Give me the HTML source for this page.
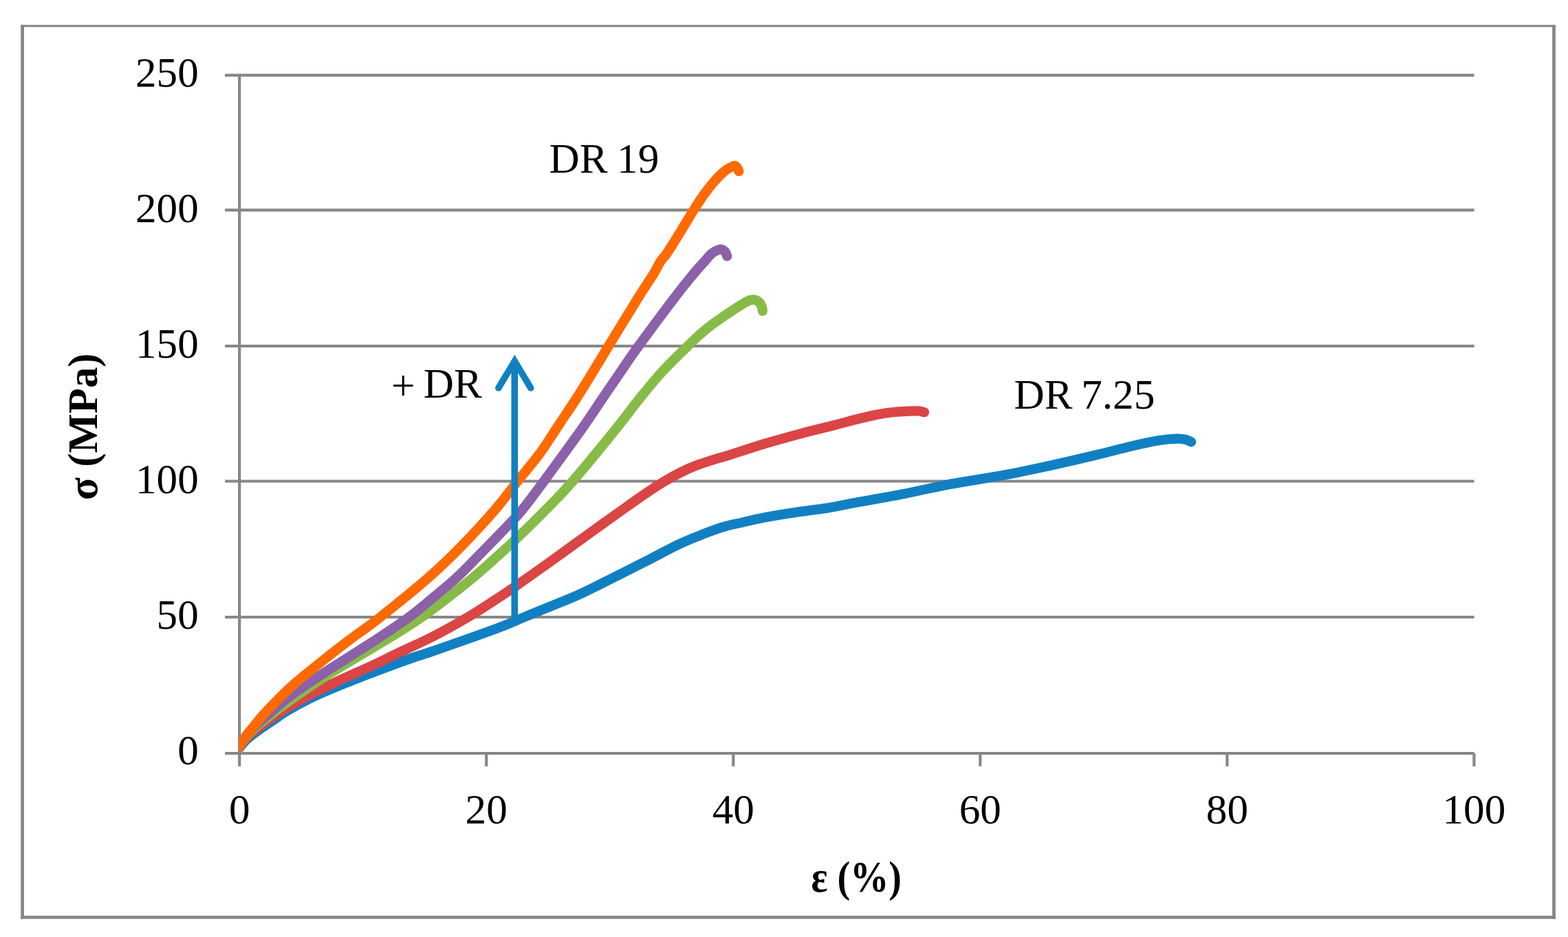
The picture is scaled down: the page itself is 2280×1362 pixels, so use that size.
<!DOCTYPE html>
<html lang="en">
<head>
<meta charset="utf-8">
<title>Stress-strain curves</title>
<style>
html,body{margin:0;padding:0;background:#ffffff;}
body{width:2280px;height:1362px;overflow:hidden;}
svg{display:block;}
text{font-family:"Liberation Serif","DejaVu Serif",serif;font-size:60px;fill:#000;}
.b{font-weight:bold;}
.g{stroke:#878787;fill:none;}
.c{fill:none;stroke-width:14.3;stroke-linecap:round;stroke-linejoin:round;}
</style>
</head>
<body>
<svg width="2280" height="1362" viewBox="0 0 2280 1362">
<rect x="0" y="0" width="2280" height="1362" fill="#ffffff"/>
<g fill="#878787">
<rect x="30.2" y="36.2" width="4.80" height="1299.50"/>
<rect x="2257.1" y="36.2" width="4.80" height="1299.50"/>
<rect x="30.2" y="36.2" width="2231.70" height="3.10"/>
<rect x="30.2" y="1331.1" width="2231.70" height="4.60"/>
</g>
<g class="g" stroke-width="4.2">
<line x1="327.1" y1="1095.0" x2="2143.6" y2="1095.0"/>
<line x1="327.1" y1="897.0" x2="2143.6" y2="897.0"/>
<line x1="327.1" y1="699.5" x2="2143.6" y2="699.5"/>
<line x1="327.1" y1="503.0" x2="2143.6" y2="503.0"/>
<line x1="327.1" y1="305.3" x2="2143.6" y2="305.3"/>
<line x1="327.1" y1="109.4" x2="2143.6" y2="109.4"/>
<line x1="348.2" y1="107.3" x2="348.2" y2="1113.9" stroke-width="4.2"/>
<line x1="707.2" y1="1094.96" x2="707.2" y2="1113.9" stroke-width="4.2"/>
<line x1="1066.3" y1="1094.96" x2="1066.3" y2="1113.9" stroke-width="4.2"/>
<line x1="1425.3" y1="1094.96" x2="1425.3" y2="1113.9" stroke-width="4.2"/>
<line x1="1784.4" y1="1094.96" x2="1784.4" y2="1113.9" stroke-width="4.2"/>
<line x1="2143.4" y1="1094.96" x2="2143.4" y2="1113.9" stroke-width="4.2"/>
</g>
<defs><clipPath id="plot"><rect x="347.4" y="0" width="2280" height="1092.6"/></clipPath></defs>
<g clip-path="url(#plot)">
<path class="c" stroke="#1180c3" d="M343.0,1094.0 C343.8,1093.0 345.2,1090.6 347.5,1087.7 C349.8,1084.8 353.7,1079.9 356.8,1076.7 C359.9,1073.5 362.4,1071.6 366.2,1068.6 C370.0,1065.6 374.7,1062.2 379.9,1058.6 C385.1,1054.9 391.4,1050.8 397.5,1046.7 C403.6,1042.6 407.6,1039.1 416.4,1033.9 C425.1,1028.7 438.9,1021.0 450.0,1015.5 C461.1,1010.0 469.6,1006.6 482.9,1001.0 C496.2,995.4 513.6,988.4 529.8,982.1 C546.0,975.8 567.3,967.9 580.0,963.2 C592.7,958.5 597.9,956.8 606.2,954.0 C614.5,951.2 611.0,952.9 630.0,946.3 C649.0,939.7 698.3,922.4 720.0,914.4 C741.7,906.4 746.7,903.5 760.0,898.0 C773.3,892.5 786.0,887.4 800.0,881.6 C814.0,875.8 827.4,871.0 844.1,863.3 C860.8,855.6 883.3,843.9 900.0,835.6 C916.7,827.3 929.4,820.8 944.1,813.3 C958.8,805.8 973.4,797.5 988.1,790.7 C1002.8,783.9 1020.5,777.1 1032.2,772.6 C1044.0,768.1 1051.3,766.1 1058.6,764.0 C1065.9,761.9 1067.4,762.1 1076.2,760.1 C1085.0,758.1 1096.7,755.0 1111.4,752.2 C1126.1,749.5 1149.5,745.8 1164.3,743.6 C1179.1,741.4 1186.4,741.1 1200.0,738.9 C1213.6,736.7 1227.4,733.6 1246.1,730.2 C1264.8,726.8 1290.1,722.6 1312.1,718.3 C1334.1,714.0 1356.2,708.6 1378.2,704.4 C1400.2,700.2 1427.3,696.2 1444.3,693.3 C1461.3,690.3 1466.4,689.4 1480.0,686.7 C1493.6,684.0 1507.4,681.1 1526.1,677.0 C1544.8,672.9 1572.3,666.5 1592.1,661.8 C1611.9,657.1 1629.6,652.2 1645.0,648.6 C1660.4,645.0 1673.7,642.1 1684.7,640.3 C1695.7,638.5 1704.5,637.9 1711.1,637.7 C1717.7,637.5 1720.8,638.2 1724.3,639.0 C1727.8,639.8 1730.8,641.8 1732.1,642.3"/>
<path class="c" stroke="#db4545" d="M342.5,1094.0 C343.3,1092.8 345.2,1089.6 347.5,1086.5 C349.8,1083.4 353.1,1078.8 356.0,1075.5 C358.9,1072.2 361.3,1069.8 365.0,1066.5 C368.7,1063.2 372.1,1060.4 378.0,1056.0 C383.9,1051.6 393.4,1044.8 400.4,1040.0 C407.4,1035.2 410.7,1033.0 420.0,1027.5 C429.3,1022.0 444.4,1013.3 456.4,1007.0 C468.3,1000.7 478.5,996.0 491.7,989.8 C504.9,983.6 521.0,976.8 535.7,970.0 C550.4,963.2 564.1,956.3 579.8,948.8 C595.5,941.3 613.3,933.6 630.0,925.0 C646.7,916.4 664.9,906.1 679.9,897.3 C694.9,888.5 707.8,879.9 720.0,872.0 C732.2,864.1 738.6,859.7 752.9,849.8 C767.2,839.9 788.1,825.1 805.7,812.5 C823.3,799.9 841.0,786.9 858.6,774.2 C876.2,761.5 897.8,746.1 911.4,736.5 C925.0,726.9 930.9,722.6 940.0,716.5 C949.1,710.4 957.8,704.7 966.1,699.7 C974.4,694.7 982.7,690.2 990.0,686.5 C997.3,682.8 1002.5,680.4 1010.0,677.5 C1017.5,674.6 1026.9,671.6 1035.0,669.0 C1043.1,666.4 1045.9,666.0 1058.6,662.0 C1071.3,658.0 1093.8,650.4 1111.4,645.1 C1129.0,639.8 1147.0,634.9 1164.3,630.3 C1181.6,625.7 1200.8,621.2 1215.2,617.5 C1229.6,613.8 1238.8,611.1 1250.5,608.3 C1262.2,605.5 1275.4,602.5 1285.7,600.8 C1296.0,599.1 1304.1,598.7 1312.2,598.1 C1320.3,597.5 1328.9,597.2 1334.2,597.4 C1339.5,597.6 1342.4,598.9 1344.0,599.2"/>
<path class="c" stroke="#87bb47" d="M342.0,1094.0 C342.9,1092.6 345.2,1088.8 347.5,1085.5 C349.8,1082.2 352.8,1078.0 355.5,1074.5 C358.2,1071.0 360.6,1068.0 364.0,1064.5 C367.4,1061.0 371.2,1057.6 376.0,1053.5 C380.8,1049.4 385.4,1045.7 392.7,1040.0 C400.0,1034.3 410.4,1026.4 420.0,1019.5 C429.6,1012.6 440.0,1005.3 450.0,998.5 C460.0,991.7 461.4,990.0 480.0,978.6 C498.6,967.2 539.4,943.5 561.5,930.0 C583.6,916.5 598.0,907.4 612.8,897.3 C627.5,887.2 637.6,879.0 650.0,869.5 C662.4,860.0 675.7,849.7 687.4,840.0 C699.1,830.3 708.9,821.5 720.0,811.5 C731.1,801.5 741.5,792.0 753.9,780.1 C766.3,768.2 781.5,753.4 794.6,740.0 C807.7,726.6 815.4,719.6 832.6,699.7 C849.8,679.8 881.9,640.5 898.0,620.5 C914.1,600.5 918.6,593.4 929.5,580.0 C940.4,566.6 951.4,552.8 963.1,540.0 C974.8,527.2 991.0,511.9 999.7,503.3 C1008.4,494.7 1009.7,493.4 1015.2,488.5 C1020.7,483.6 1027.0,478.2 1032.9,473.6 C1038.8,469.1 1044.6,465.2 1050.5,461.2 C1056.4,457.1 1062.2,453.1 1068.1,449.3 C1074.0,445.5 1081.2,440.6 1085.7,438.3 C1090.2,436.0 1092.5,435.6 1095.4,435.7 C1098.3,435.8 1101.2,437.1 1103.3,438.8 C1105.4,440.5 1106.9,443.6 1107.8,445.8 C1108.7,448.0 1108.6,451.0 1108.8,452.0"/>
<path class="c" stroke="#8b61a9" d="M341.5,1094.0 C342.5,1092.5 345.2,1088.0 347.5,1084.7 C349.8,1081.4 352.4,1077.5 355.0,1074.0 C357.6,1070.5 359.8,1067.1 363.0,1063.5 C366.2,1059.9 369.8,1056.4 374.0,1052.5 C378.2,1048.6 382.1,1045.2 388.1,1040.0 C394.1,1034.8 403.0,1027.2 410.0,1021.5 C417.0,1015.8 418.3,1014.2 430.0,1006.0 C441.7,997.8 460.6,985.0 480.0,972.3 C499.4,959.6 527.4,942.5 546.5,930.0 C565.6,917.5 580.6,907.5 594.5,897.3 C608.4,887.0 618.5,878.0 630.0,868.5 C641.5,859.0 651.9,850.8 663.6,840.0 C675.3,829.2 686.7,817.0 700.0,803.5 C713.3,790.0 733.3,769.5 743.3,758.9 C753.3,748.3 752.3,749.9 760.2,740.0 C768.1,730.1 776.0,719.7 790.7,699.7 C805.4,679.7 834.4,640.0 848.5,620.0 C862.6,600.0 866.5,593.3 875.5,580.0 C884.5,566.7 894.0,552.8 902.8,540.0 C911.6,527.2 914.9,521.6 928.3,503.3 C941.7,485.0 969.6,447.5 983.0,430.0 C996.4,412.5 1001.7,406.4 1008.5,398.1 C1015.3,389.9 1019.6,385.4 1024.0,380.5 C1028.4,375.6 1031.2,371.5 1035.0,368.5 C1038.8,365.5 1043.8,363.0 1046.9,362.5 C1050.1,362.0 1052.2,363.9 1053.9,365.5 C1055.6,367.1 1056.7,371.2 1057.2,372.3"/>
<path class="c" stroke="#ff6a00" d="M341.0,1094.0 C342.1,1092.3 345.0,1087.7 347.5,1084.0 C350.0,1080.3 353.2,1075.7 356.0,1072.0 C358.8,1068.3 359.6,1067.3 364.0,1062.0 C368.4,1056.7 375.3,1047.7 382.1,1040.0 C388.9,1032.3 397.0,1024.0 405.0,1016.0 C413.0,1008.0 417.5,1003.0 430.0,992.3 C442.5,981.6 466.9,962.2 480.0,951.8 C493.1,941.4 496.3,939.1 508.4,930.0 C520.5,920.9 533.7,912.2 552.6,897.3 C571.5,882.4 602.0,858.0 622.0,840.5 C642.0,823.0 656.5,808.8 672.9,792.0 C689.3,775.2 707.4,755.4 720.6,740.0 C733.9,724.6 741.7,713.1 752.4,699.7 C763.1,686.3 774.8,672.9 784.6,659.6 C794.4,646.3 802.2,633.3 811.0,620.0 C819.8,606.7 829.0,593.3 837.6,580.0 C846.2,566.7 854.6,552.8 862.5,540.0 C870.4,527.2 873.5,521.6 884.7,503.3 C895.9,485.0 918.8,447.5 929.7,430.0 C940.7,412.5 945.3,406.4 950.4,398.1 C955.5,389.9 957.1,385.2 960.1,380.5 C963.1,375.8 965.9,373.4 968.5,369.9 C971.1,366.4 972.9,363.4 975.5,359.3 C978.1,355.2 981.1,350.3 984.3,345.2 C987.4,340.1 990.3,335.5 994.4,328.8 C998.5,322.1 1003.8,313.1 1008.9,305.0 C1014.0,296.9 1020.1,287.5 1025.2,280.5 C1030.3,273.5 1034.8,268.0 1039.3,262.9 C1043.8,257.8 1048.8,252.8 1052.5,249.6 C1056.2,246.4 1058.8,245.4 1061.3,243.9 C1063.8,242.4 1065.7,240.9 1067.5,240.8 C1069.3,240.7 1070.8,242.2 1071.9,243.5 C1073.0,244.8 1073.9,248.0 1074.3,248.9"/>
</g>
<g fill="none" stroke="#1180c3" stroke-width="9.7">
<line x1="748.3" y1="526" x2="748.3" y2="906"/>
<polyline stroke-linecap="round" stroke-linejoin="miter" stroke-width="9.5" points="724.8,564.0 748.3,524.9 771.8,564.0"/>
</g>
<text transform="translate(288.8,1111.1) scale(1.02,1.035)" text-anchor="end">0</text>
<text transform="translate(288.8,914.1) scale(1.02,1.035)" text-anchor="end">50</text>
<text transform="translate(288.8,717.1) scale(1.02,1.035)" text-anchor="end">100</text>
<text transform="translate(288.8,520.1) scale(1.02,1.035)" text-anchor="end">150</text>
<text transform="translate(288.8,323.1) scale(1.02,1.035)" text-anchor="end">200</text>
<text transform="translate(288.8,126.1) scale(1.02,1.035)" text-anchor="end">250</text>
<text transform="translate(348.2,1197.1) scale(1.02,1.035)" text-anchor="middle">0</text>
<text transform="translate(707.2,1197.1) scale(1.02,1.035)" text-anchor="middle">20</text>
<text transform="translate(1066.3,1197.1) scale(1.02,1.035)" text-anchor="middle">40</text>
<text transform="translate(1425.3,1197.1) scale(1.02,1.035)" text-anchor="middle">60</text>
<text transform="translate(1784.4,1197.1) scale(1.02,1.035)" text-anchor="middle">80</text>
<text transform="translate(2143.4,1197.1) scale(1.02,1.035)" text-anchor="middle">100</text>
<text class="b" transform="translate(1245.3,1296.2) scale(0.935,1.05)" text-anchor="middle">ε (%)</text>
<text class="b" transform="translate(141.2,620.2) rotate(-90) scale(1.012,1.03)" text-anchor="middle">σ (MPa)</text>
<text transform="translate(798.6,250.9) scale(1.02,1.035)">DR<tspan dx="-1.8"> 19</tspan></text>
<text transform="translate(1474.5,594.0) scale(1.02,1.035)">DR<tspan dx="-2.6"> 7.25</tspan></text>
<text transform="translate(570.0,578.0) scale(1.02,1.035)"><tspan dx="-1" dy="2.7">+</tspan><tspan dx="-3" dy="-2.7"> DR</tspan></text>
</svg>
</body>
</html>
